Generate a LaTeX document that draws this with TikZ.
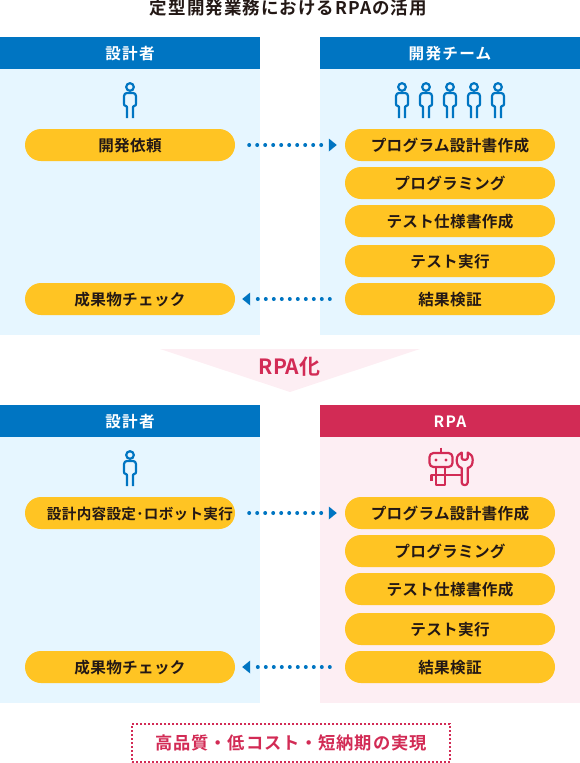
\documentclass[tikz,border=0pt]{standalone}
\usepackage{fontspec}
\usetikzlibrary{arrows.meta,shapes.misc}
\setmainfont{Noto Sans CJK JP}[BoldFont={Noto Sans CJK JP Bold}]
\definecolor{cblue}{HTML}{0075C2}
\definecolor{clight}{HTML}{E6F6FF}
\definecolor{cyel}{HTML}{FFC423}
\definecolor{cpink}{HTML}{D22B55}
\definecolor{cpale}{HTML}{FDEEF3}
\definecolor{ctext}{HTML}{231815}
\tikzset{
  panel/.style={rectangle,draw=none,fill=#1,inner sep=0pt,minimum width=260pt,minimum height=298pt},
  head/.style={rectangle,draw=none,fill=#1,inner sep=0pt,minimum width=260pt,minimum height=32pt,text=white,text height=13pt,text depth=0pt,font=\fontsize{15.6}{16}\selectfont\bfseries\addfontfeature{LetterSpace=8}},
  pill/.style={rounded rectangle,draw=none,fill=cyel,inner sep=0pt,minimum width=210pt,minimum height=32pt,text=ctext,text height=13pt,text depth=0pt,font=\fontsize{15.6}{16}\selectfont\bfseries\addfontfeature{LetterSpace=2}},
  flow/.style={draw=cblue,line width=4pt,line cap=round,dash pattern=on 0pt off 8pt,
    -{Triangle[length=8pt,width=13pt,fill=cblue,line width=0pt]}},
  person/.pic={
    \draw[cblue,line width=2.2pt] (0,-8) circle (3.8pt);
    \draw[cblue,line width=2.2pt,line join=round]
      (-3,23) -- (-3,12) .. controls (-3,11) and (-3.5,11) .. (-4,11) .. controls (-5.5,11) and (-6,10) .. (-6,9) -- (-6,1) .. controls (-6,-1) and (-4.5,-2) .. (-3,-2) -- (3,-2)
      .. controls (4.5,-2) and (6,-1) .. (6,1) -- (6,9) .. controls (6,10) and (5.5,11) .. (4,11) .. controls (3.5,11) and (3,11) .. (3,12) -- (3,23);
  }
}
\begin{document}
\begin{tikzpicture}[x=1pt,y=-1pt]
\useasboundingbox (0,0) rectangle (580,763);
\node[text=ctext,font=\fontsize{17.5}{18}\selectfont\bfseries\addfontfeature{LetterSpace=6}] (title) at (288.5,8) {定型開発業務におけるRPAの活用};
% upper panels
\node[panel=clight] (p1) at (130,186) {};
\node[panel=clight] (p2) at (450,186) {};
\node[head=cblue] (h1) at (130,53) {設計者};
\node[head=cblue] (h2) at (450,53) {開発チーム};
\path (130,95) pic {person};
\foreach \x in {402,426,450,474,498} {\path (\x,95) pic {person};}
\node[pill] (a1) at (130,145) {開発依頼};
\node[pill] (a2) at (130,299) {成果物チェック};
\node[pill] (b1) at (450,145) {プログラム設計書作成};
\node[pill] (b2) at (450,183) {プログラミング};
\node[pill] (b3) at (450,221) {テスト仕様書作成};
\node[pill] (b4) at (450,261) {テスト実行};
\node[pill] (b5) at (450,299) {結果検証};
\draw[flow,shorten <=14pt,shorten >=8pt] (a1.east) -- (b1.west);
\draw[flow,shorten <=15pt,shorten >=7pt] (b5.west) -- (a2.east);
% chevron
\fill[cpale] (160,349) -- (420,349) -- (290,392) -- cycle;
\node[text=cpink,font=\fontsize{21}{22}\selectfont\bfseries] (rpaka) at (289.5,366.5) {RPA化};
% lower panels
\node[panel=clight] (p3) at (130,554) {};
\node[panel=cpale] (p4) at (450,554) {};
\node[head=cblue] (h3) at (130,421) {設計者};
\node[head=cpink] (h4) at (450,421) {RPA};
\path (130,463) pic {person};
% robot
\begin{scope}[cpink,line width=2.2pt,line join=round]
  \draw (441,447.5) -- (441,453);
  \draw[rounded corners=4pt] (429.5,453) rectangle (452.5,467);
  \fill (436,460) circle (1.6pt) (446,460) circle (1.6pt);
  \draw (436,467) -- (436,485) -- (445,485) -- (445,467);
  \draw (431.5,481) -- (431.5,475) -- (461.7,475);
  \draw (461.7,468) .. controls (458,467) and (456.7,464) .. (456.7,460) .. controls (456.7,456) and (459,453.5) .. (461.7,452.5) -- (461.7,458) .. controls (461.7,460.5) and (467.7,460.5) .. (467.7,458) -- (467.7,452.5) .. controls (470.5,453.5) and (472.7,456) .. (472.7,460) .. controls (472.7,464) and (471.5,467) .. (467.7,468) -- (467.7,482.5) .. controls (467.7,486) and (461.7,486) .. (461.7,482.5) -- cycle;
\end{scope}
\node[pill,font=\fontsize{14.6}{16}\selectfont\bfseries\addfontfeature{LetterSpace=2}] (c1) at (130,513) {\hspace*{20pt}\makebox[0pt][c]{設計内容設定･ロボット実行}};
\node[pill] (c2) at (130,667) {成果物チェック};
\node[pill] (d1) at (450,513) {プログラム設計書作成};
\node[pill] (d2) at (450,551) {プログラミング};
\node[pill] (d3) at (450,589) {テスト仕様書作成};
\node[pill] (d4) at (450,629) {テスト実行};
\node[pill] (d5) at (450,667) {結果検証};
\draw[flow,shorten <=14pt,shorten >=8pt] (c1.east) -- (d1.west);
\draw[flow,shorten <=15pt,shorten >=7pt] (d5.west) -- (c2.east);
% result
\node[rectangle,draw=cpink,line width=2pt,dash pattern=on 2pt off 2pt,inner sep=0pt,minimum width=318pt,minimum height=38pt,text=cpink,font=\fontsize{17.3}{18}\selectfont\bfseries\addfontfeature{LetterSpace=5}] (res) at (291,743) {高品質・低コスト・短納期の実現};
\end{tikzpicture}
\end{document}
